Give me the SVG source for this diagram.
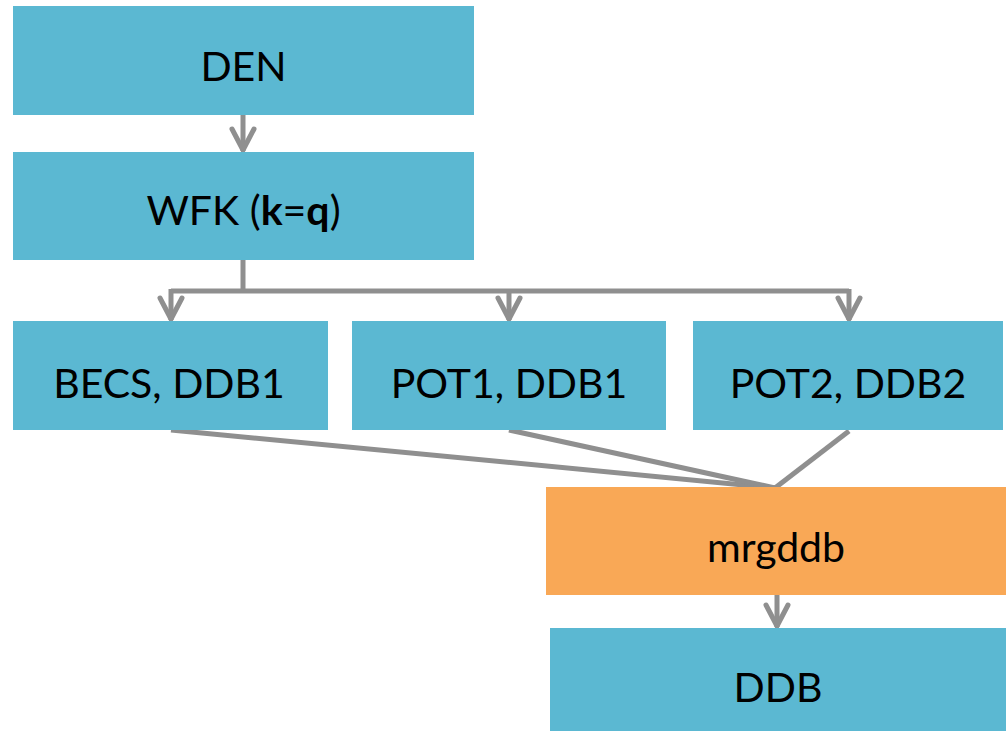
<svg xmlns="http://www.w3.org/2000/svg" width="1008" height="731" viewBox="0 0 1008 731">
<style>
.b{fill:#5BB8D2}
.o{fill:#F9A856}
.t{font-family:Lato,"Liberation Sans",sans-serif;font-size:41px;fill:#000;text-anchor:middle}
.c{stroke:#8F8F8F;stroke-width:5;fill:none}
</style>
<defs>
<marker id="ah" markerUnits="userSpaceOnUse" markerWidth="34" markerHeight="34" viewBox="-30 -17 34 34" refX="0" refY="0" orient="auto" overflow="visible">
<path d="M-22,-11 L-1,0 L-22,11" fill="none" stroke="#8F8F8F" stroke-width="5" stroke-linecap="round" stroke-linejoin="miter"/>
</marker>
</defs>
<g id="connectors">
<line class="c" x1="243" y1="115" x2="243" y2="151" marker-end="url(#ah)"/>
<line class="c" x1="243" y1="260" x2="243" y2="291"/>
<path class="c" d="M171,291 L849,291"/>
<line class="c" x1="171" y1="289" x2="171" y2="320" marker-end="url(#ah)"/>
<line class="c" x1="509" y1="289" x2="509" y2="320" marker-end="url(#ah)"/>
<line class="c" x1="849" y1="289" x2="849" y2="320" marker-end="url(#ah)"/>
<line class="c" x1="171" y1="430" x2="775" y2="488"/>
<line class="c" x1="509" y1="430" x2="775" y2="488"/>
<line class="c" x1="849" y1="431" x2="775" y2="488"/>
<line class="c" x1="777" y1="595" x2="777" y2="627" marker-end="url(#ah)"/>
</g>
<g id="den"><rect class="b" x="13" y="6" width="461" height="109"/><text class="t" x="243.5" y="81">DEN</text></g>
<g id="wfk"><rect class="b" x="13" y="152" width="461" height="108"/><text class="t" x="243.5" y="225">WFK (<tspan font-weight="bold">k</tspan>=<tspan font-weight="bold">q</tspan>)</text></g>
<g id="becs"><rect class="b" x="13" y="321" width="315" height="109"/><text class="t" x="169" y="398">BECS, DDB1</text></g>
<g id="pot1"><rect class="b" x="352" y="321" width="314" height="109"/><text class="t" x="509" y="398">POT1, DDB1</text></g>
<g id="pot2"><rect class="b" x="693" y="321" width="310" height="109"/><text class="t" x="848" y="398">POT2, DDB2</text></g>
<g id="mrgddb"><rect class="o" x="546" y="487" width="460" height="108"/><text class="t" x="776" y="562">mrgddb</text></g>
<g id="ddb"><rect class="b" x="550" y="628" width="456" height="103"/><text class="t" x="778" y="702">DDB</text></g>
</svg>
